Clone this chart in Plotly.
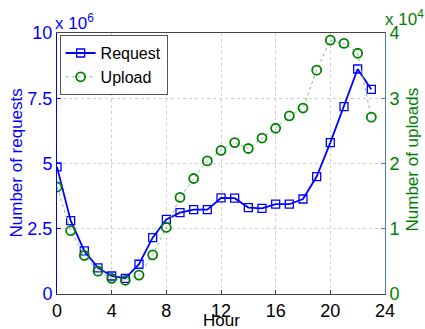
import plotly.graph_objects as go

hours = list(range(24))
requests_1e6 = [4.87, 2.81, 1.65, 1.0, 0.69, 0.6, 1.14, 2.16, 2.86, 3.12, 3.23, 3.23,
                3.68, 3.67, 3.31, 3.28, 3.44, 3.44, 3.64, 4.5, 5.8, 7.18, 8.62, 7.84]
uploads_1e4 = [1.64, 0.97, 0.59, 0.35, 0.24, 0.21, 0.29, 0.6, 1.02, 1.48, 1.77, 2.04,
               2.2, 2.32, 2.23, 2.39, 2.54, 2.73, 2.85, 3.43, 3.89, 3.84, 3.69, 2.71]
x_ticks = [0, 4, 8, 12, 16, 20, 24]
y_ticks = [0, 2.5, 5, 7.5, 10]
y_ticktext = ["0", "2.5", "5", "7.5", "10"]
y2_ticks = [0, 1, 2, 3, 4]

BLUE = "#0000FF"
GREEN = "#008000"
FONT = "Liberation Sans, Arial, sans-serif"

fig = go.Figure()
fig.add_trace(go.Scatter(
    x=hours, y=requests_1e6, name="Request", mode="lines+markers",
    line=dict(color=BLUE, width=1.8),
    marker=dict(symbol="square-open", size=8, color=BLUE, line=dict(width=1.3)),
))
fig.add_trace(go.Scatter(
    x=hours, y=uploads_1e4, name="Upload", mode="lines+markers", yaxis="y2",
    line=dict(color="#7fbf7f", width=1, dash="dot"),
    marker=dict(symbol="circle-open", size=9, color=GREEN, line=dict(width=1.8)),
))

fig.update_layout(
    width=425, height=329,
    margin=dict(l=57, r=40, t=33, b=35),
    paper_bgcolor="white", plot_bgcolor="white",
    font=dict(family=FONT, size=17, color="black"),
    showlegend=True,
    legend=dict(x=0.008, y=0.992, xanchor="left", yanchor="top",
                bordercolor="#555555", borderwidth=1, bgcolor="white",
                font=dict(size=16, color="black"), tracegroupgap=0,
                itemwidth=30),
    xaxis=dict(range=[0, 24], tickvals=x_ticks, ticks="inside", ticklen=4,
               tickcolor="#444", showgrid=True, gridcolor="#d0d0d0", griddash="dot",
               showline=True, linecolor="#444", mirror=True, zeroline=False,
               automargin=False,
               tickfont=dict(size=18, color="black")),
    yaxis=dict(range=[0, 10], tickvals=y_ticks, ticktext=y_ticktext, ticks="inside",
               ticklen=4, tickcolor=BLUE, showgrid=True, gridcolor="#d0d0d0",
               griddash="dot", showline=True, linecolor=BLUE, zeroline=False,
               automargin=False,
               tickfont=dict(size=18, color=BLUE)),
    yaxis2=dict(range=[0, 4], tickvals=y2_ticks, overlaying="y", side="right",
                ticks="inside", ticklen=4, tickcolor="#4a7fb0", showgrid=False,
                showline=True, linecolor="#4a7fb0", zeroline=False,
                automargin=False,
                tickfont=dict(size=18, color=GREEN)),
    annotations=[
        dict(x=0, y=1, xref="paper", yref="paper", xanchor="left", yanchor="bottom",
             text="x 10<sup>6</sup>", showarrow=False, font=dict(size=17, color=BLUE),
             xshift=-4, yshift=-2),
        dict(x=1, y=1, xref="paper", yref="paper", xanchor="left", yanchor="bottom",
             text="x 10<sup>4</sup>", showarrow=False, font=dict(size=17, color=GREEN),
             xshift=-2, yshift=2),
        dict(x=0.5, y=0, xref="paper", yref="paper", xanchor="center", yanchor="middle",
             text="Hour", showarrow=False, font=dict(size=17, color="black"),
             yshift=-26),
        dict(x=0, y=0.5, xref="paper", yref="paper", xanchor="center", yanchor="middle",
             text="Number of requests", textangle=-90, showarrow=False,
             font=dict(size=17, color=BLUE), xshift=-41),
        dict(x=1, y=0.5, xref="paper", yref="paper", xanchor="center", yanchor="middle",
             text="Number of uploads", textangle=-90, showarrow=False,
             font=dict(size=17, color=GREEN), xshift=27, yshift=4),
    ],
)

fig.write_html("out.html")
